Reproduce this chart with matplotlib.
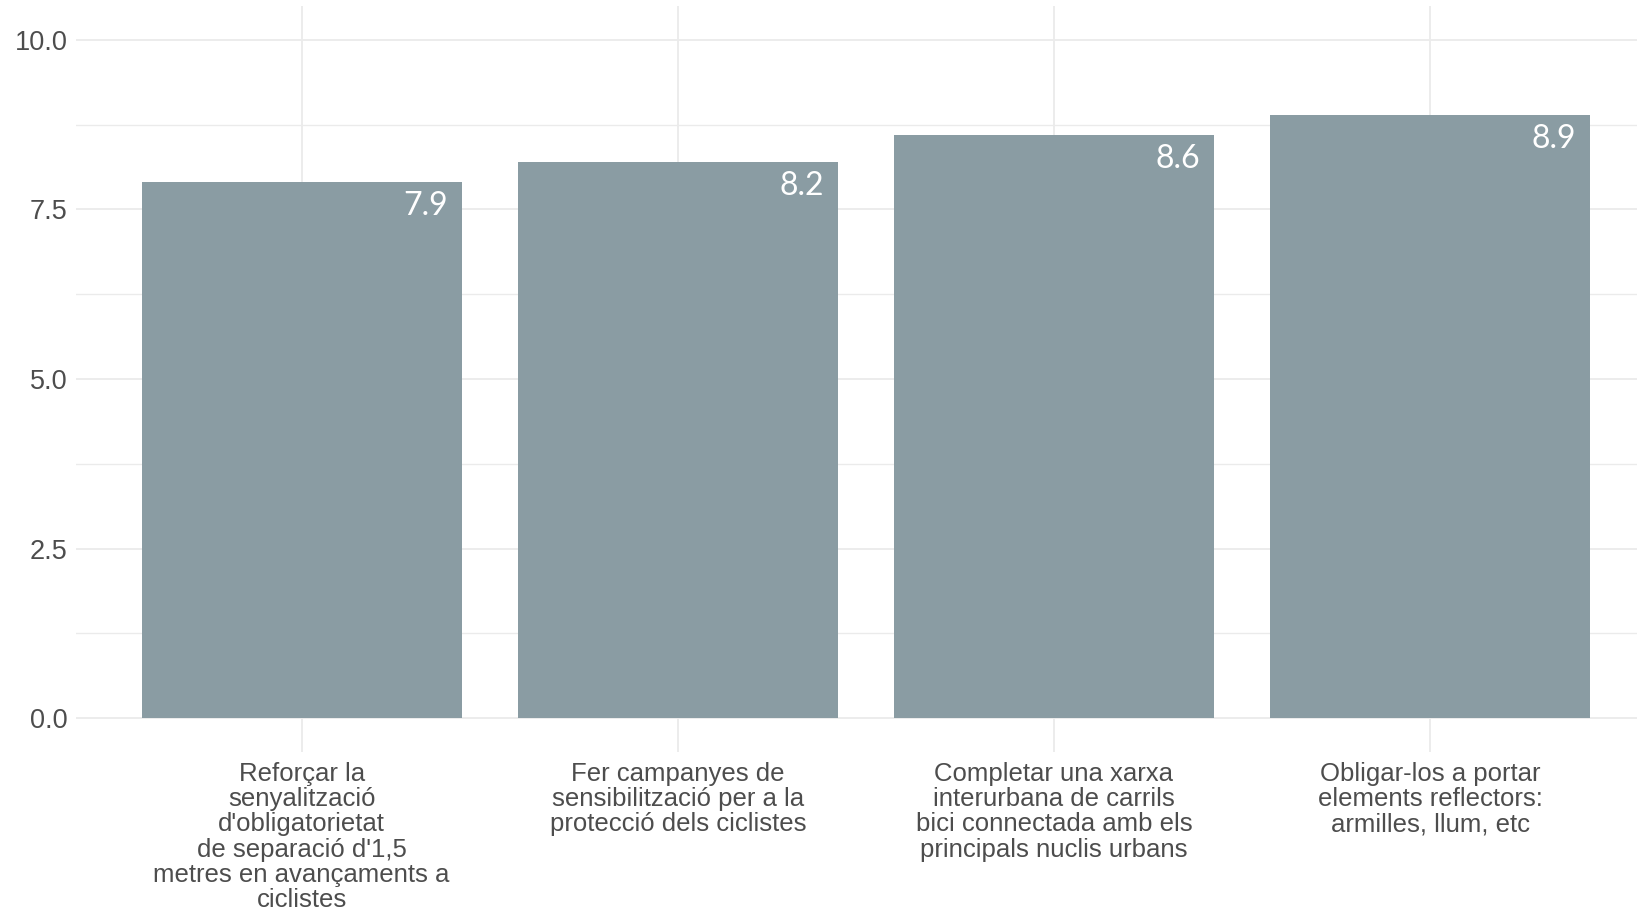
import matplotlib
matplotlib.use("Agg")
import matplotlib.pyplot as plt

# --- dades ---
categories = [
    "Reforçar la\nsenyalització\nd'obligatorietat\nde separació d'1,5\nmetres en avançaments a\nciclistes",
    "Fer campanyes de\nsensibilització per a la\nprotecció dels ciclistes",
    "Completar una xarxa\ninterurbana de carrils\nbici connectada amb els\nprincipals nuclis urbans",
    "Obligar-los a portar\nelements reflectors:\narmilles, llum, etc",
]
values = [7.9, 8.2, 8.6, 8.9]
y_ticks = [0.0, 2.5, 5.0, 7.5, 10.0]
y_minor = [1.25, 3.75, 6.25, 8.75]

bar_color = "#8a9ca3"
grid_color = "#ebebeb"
text_color = "#4d4d4d"

plt.rcParams['font.family'] = ['Liberation Sans', 'DejaVu Sans']

fig = plt.figure(figsize=(16.37, 9.11), dpi=100)
ax = fig.add_axes([76 / 1637, 1 - 752 / 911, 1 - 76 / 1637, (752 - 6) / 911])

xs = list(range(1, len(values) + 1))
width = 0.85
ax.bar(xs, values, width=width, color=bar_color, zorder=2)

# etiquetes de valor dins la barra, a dalt a la dreta
for x, v in zip(xs, values):
    ax.annotate(f"{v:.1f}", xy=(x + width / 2, v), xytext=(-10, -6.5),
                textcoords="offset points", ha="right", va="top",
                color="white", fontsize=23, family="Lato", zorder=3)

ax.set_xlim(0.4, 4.55)
ax.set_ylim(-0.5, 10.5)
ax.set_xticks(xs)
ax.set_xticklabels(categories, fontsize=18.5, color=text_color, linespacing=1.07)
ax.set_yticks(y_ticks)
ax.set_yticklabels([f"{t:.1f}" for t in y_ticks], fontsize=19.5, color=text_color)
ax.set_yticks(y_minor, minor=True)
ax.tick_params(axis="both", which="both", length=0)
ax.tick_params(axis="x", pad=7)
ax.tick_params(axis="y", pad=6)

ax.grid(True, which="major", color=grid_color, linewidth=1.3, zorder=0)
ax.grid(True, which="minor", axis="y", color=grid_color, linewidth=1.0, zorder=0)
ax.set_axisbelow(True)
for s in ax.spines.values():
    s.set_visible(False)

fig.savefig("out.png", dpi=100)
